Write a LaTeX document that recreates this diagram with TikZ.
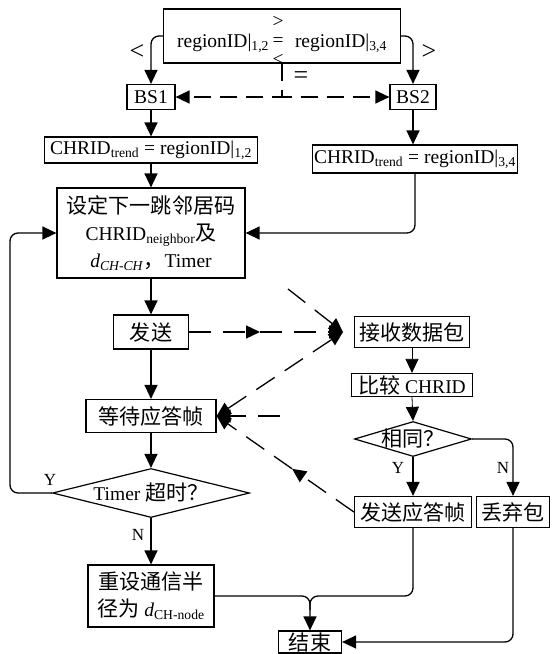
\documentclass[tikz,border=0pt]{standalone}
\usepackage{fontspec}
\setmainfont{Liberation Serif}
\newfontfamily\cjk[Scale=1.08]{Noto Sans CJK SC}
\usetikzlibrary{arrows.meta,shapes.geometric,calc}
\begin{document}
\begin{tikzpicture}[x=1pt,y=-1pt,
  font=\fontsize{19.5}{27}\selectfont,
  >={Triangle[length=14pt,width=13pt]},
  box/.style={draw,line width=1.2pt,inner sep=1pt,align=center},
  dbox/.style={draw,line width=1.2pt,diamond,align=center},
  conn/.style={line width=1.3pt,rounded corners=8pt},
  thinc/.style={line width=0.8pt},
  dline/.style={line width=1.3pt,dash pattern=on 22pt off 12pt},
  sline/.style={line width=1.3pt,dash pattern=on 17pt off 9pt},
  lab/.style={inner sep=0pt,font=\fontsize{17}{19}\selectfont},
  sym/.style={inner sep=0pt,font=\fontsize{26}{28}\selectfont}]
\useasboundingbox (0,0) rectangle (555,654);

% nodes
\node[box,minimum width=237pt,minimum height=54pt,text height=27pt,text depth=5pt] (top) at (282,36)
  {regionID|\textsubscript{1,2}\hspace{4pt}\makebox[10pt]{\rlap{\raisebox{20pt}{>}}\rlap{\raisebox{1pt}{=}}\raisebox{-18pt}{<}}\hspace{12pt}regionID|\textsubscript{3,4}};
\node[box,minimum width=48pt,minimum height=25pt] (bs1) at (151,97) {BS1};
\node[box,minimum width=46pt,minimum height=25pt] (bs2) at (413,97) {BS2};
\node[box,minimum width=213pt,minimum height=26pt] (c1) at (151,150) {CHRID\textsubscript{trend} = regionID|\textsubscript{1,2}};
\node[box,minimum width=205pt,minimum height=28pt] (c2) at (415,159) {CHRID\textsubscript{trend} = regionID|\textsubscript{3,4}};
\node[box,minimum width=188pt,minimum height=90pt] (big) at (151,233)
  {{\cjk 设定下一跳邻居码}\\CHRID\textsubscript{neighbor}{\cjk 及}\\\textit{d}\textsubscript{\textit{CH-CH}}{\cjk ，}Timer};
\node[box,minimum width=75pt,minimum height=34pt] (send) at (151,332) {\cjk 发送};
\node[box,minimum width=130pt,minimum height=33pt] (wait) at (151,416) {\cjk 等待应答帧};
\node[dbox,minimum width=197pt,minimum height=49pt,aspect=4,inner sep=-2pt] (timer) at (151,493) {Timer {\cjk 超时？}};
\node[box,minimum width=126pt,minimum height=62pt] (reset) at (151,596)
  {{\cjk 重设通信半}\\{\cjk 径为} \textit{d}\textsubscript{CH-node}};
\node[box,minimum width=63pt,minimum height=22pt] (end) at (310,642) {\cjk 结束};
\node[box,minimum width=115pt,minimum height=31pt] (recv) at (412,332) {\cjk 接收数据包};
\node[box,minimum width=121pt,minimum height=23pt] (cmp) at (412,385) {{\cjk 比较} CHRID};
\node[dbox,minimum width=117pt,minimum height=35pt,aspect=3.34,inner sep=-4pt] (same) at (413,439) {\cjk 相同？};
\node[box,minimum width=117pt,minimum height=31pt] (ack) at (413,512) {\cjk 发送应答帧};
\node[box,minimum width=73pt,minimum height=31pt] (drop) at (513,512) {\cjk 丢弃包};

% labels
\node[sym] (lt) at (137,52) {<};
\node[sym] (gt) at (429,52) {>};
\node[sym] (eq) at (301,78) {=};
\node[lab] (ly1) at (50,480) {Y};
\node[lab] (ln1) at (138,535) {N};
\node[lab] (ly2) at (398,468) {Y};
\node[lab] (ln2) at (503,468) {N};

% coordinates
\coordinate (lp) at (10,493);
\coordinate (rin) at (343,332);
\coordinate (f1) at (288,289);
\coordinate (f2) at (280,416);
\coordinate (mid1) at (260,332);
\coordinate (mid2) at ($(ack.west)!0.45!(wait.east)$);
\coordinate (jn) at (end.north |- reset.east);

% solid connectors
\draw[conn,->] (top.west) -| (bs1.north);
\draw[conn,->] (top.east) -| (bs2.north);
\draw[conn,->] (bs1.south) -- (c1.north);
\draw[conn,->] (bs2.south) -- (bs2.south |- c2.north);
\draw[conn,->] (c1.south) -- (big.north);
\draw[conn,->] (c2.south) |- (big.east);
\draw[conn,->] (big.south) -- (send.north);
\draw[conn,->] (send.south) -- (wait.north);
\draw[conn,->] (wait.south) -- (timer.north);
\draw[conn,->] (timer.south) -- (reset.north);
\draw[conn,->] (timer.west) -- (lp) |- (big.west);
\draw[conn,->] (reset.east) -| (end.north);
\draw[conn] (ack.south) |- (jn) -- ++(0,14);
\draw[conn,->] (drop.south) |- (end.east);
\draw[thinc,->] (recv.south) -- (cmp.north);
\draw[thinc,->] (cmp.south) -- (same.north);
\draw[conn,->] (same.south) -- (ack.north);
\draw[conn,->] (same.east) -| (drop.north);

% dashed connectors
\draw[sline,->] (top.south) |- (bs1.east);
\draw[sline,->] (top.south) |- (bs2.west);
\draw[dline,->] (send.east) -- (mid1);
\draw[dline,->] (mid1) -- (rin);
\draw[dline,->] (f1) -- (rin);
\draw[dline,<->] (wait.east) -- (rin);
\draw[dline,->] (f2) -- (wait.east);
\draw[dline,->] (ack.west) -- (mid2);
\draw[dline,->] (mid2) -- (wait.east);
\end{tikzpicture}
\end{document}
